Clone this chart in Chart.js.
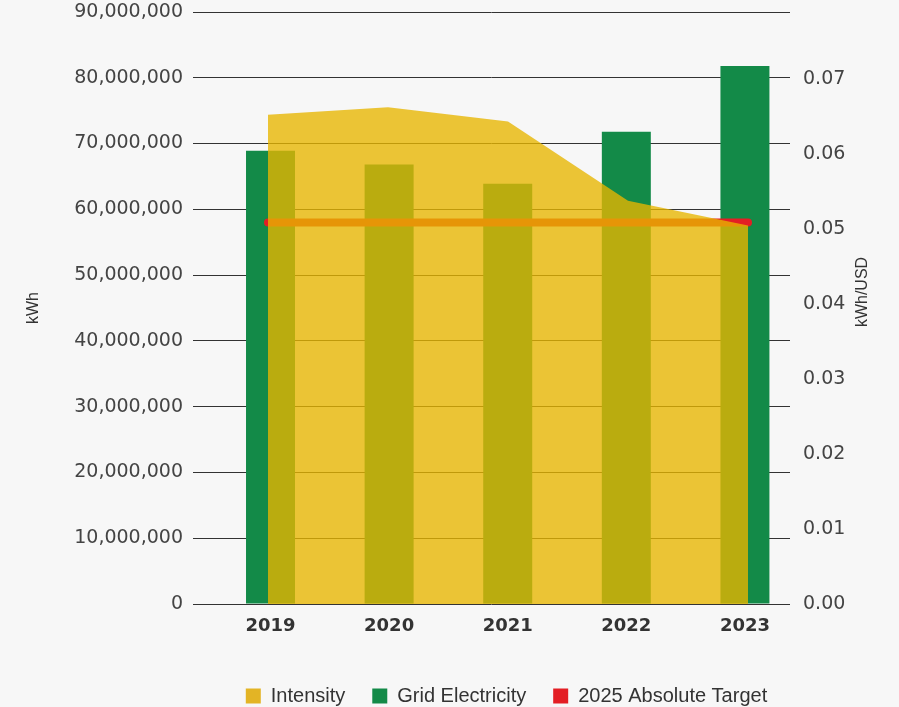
<!DOCTYPE html>
<html lang="en">
  <head>
    <meta charset="UTF-8" />
    <title>Grid Electricity and Intensity</title>
    <style>
      html,
      body {
        margin: 0;
        padding: 0;
        background: #f7f7f7;
      }
      .wrap {
        width: 899px;
        height: 707px;
      }
    </style>
    <script src="https://cdn.jsdelivr.net/npm/chart.js"></script>
  </head>
  <body>
    <div class="wrap">
      <canvas id="energyChart" width="899" height="707"></canvas>
    </div>
    <script>
      const years = [2019, 2020, 2021, 2022, 2023];
      const gridElectricity = [68900000, 66800000, 63900000, 71800000, 81800000];
      const intensity = [0.0653, 0.0663, 0.0644, 0.0538, 0.0505];
      const absoluteTarget = [58000000, 58000000, 58000000, 58000000, 58000000];
      const seriesNames = ["Intensity", "Grid Electricity", "2025 Absolute Target"];
      const legendColors = ["#e3b425", "#138a48", "#e31e24"];
      const leftTitle = "kWh";
      const rightTitle = "kWh/USD";

      const toPoints = (values) => years.map((y, i) => ({ x: y, y: values[i] }));

      // moves the legend and draws the right axis title (reads bottom to top)
      const layoutTweaks = {
        id: "layoutTweaks",
        afterLayout(chart) {
          const lg = chart.legend;
          lg.left += 57;
          lg.right += 57;
          lg.top += 9;
          lg.bottom += 9;
        },
        afterDraw(chart) {
          const ctx = chart.ctx;
          ctx.save();
          ctx.translate(863, 292);
          ctx.rotate(-Math.PI / 2);
          ctx.textAlign = "center";
          ctx.textBaseline = "middle";
          ctx.fillStyle = "#333";
          ctx.font = "16px 'Liberation Sans'";
          ctx.fillText(rightTitle, 0, 0);
          ctx.restore();
        },
      };

      const tickFont = { family: "DejaVu Sans", size: 19 };

      new Chart(document.getElementById("energyChart"), {
        type: "bar",
        data: {
          datasets: [
            {
              label: seriesNames[0],
              type: "line",
              data: toPoints(intensity),
              xAxisID: "x2",
              yAxisID: "y1",
              backgroundColor: "rgba(231, 182, 0, 0.79)",
              borderColor: "transparent",
              borderWidth: 0,
              pointRadius: 0,
              tension: 0,
              fill: "origin",
              order: 0,
            },
            {
              label: seriesNames[1],
              data: toPoints(gridElectricity),
              xAxisID: "x",
              yAxisID: "y",
              backgroundColor: "#138a48",
              grouped: false,
              categoryPercentage: 1,
              barPercentage: 0.413,
              order: 2,
            },
            {
              label: seriesNames[2],
              type: "line",
              data: toPoints(absoluteTarget),
              xAxisID: "x2",
              yAxisID: "y",
              borderColor: "#e31e24",
              backgroundColor: "#e31e24",
              borderWidth: 8,
              borderCapStyle: "round",
              pointRadius: 0,
              fill: false,
              order: 1,
            },
          ],
        },
        options: {
          responsive: false,
          animation: false,
          layout: { padding: { top: 12 } },
          font: { family: "Liberation Sans" },
          plugins: {
            tooltip: { enabled: false },
            legend: {
              position: "bottom",
              labels: {
                boxWidth: 15,
                boxHeight: 15,
                padding: 27,
                color: "#333",
                font: { family: "Liberation Sans", size: 20 },
                sort: (a, b) => a.datasetIndex - b.datasetIndex,
                generateLabels(chart) {
                  const items = Chart.defaults.plugins.legend.labels.generateLabels(chart);
                  items.forEach((it) => {
                    it.fillStyle = legendColors[it.datasetIndex];
                    it.strokeStyle = legendColors[it.datasetIndex];
                    it.lineWidth = 0;
                  });
                  return items;
                },
              },
            },
          },
          scales: {
            x: {
              type: "linear",
              position: "bottom",
              offset: false,
              min: 2018.3465,
              max: 2023.38,
              grid: { display: false, offset: false },
              border: { display: false },
              ticks: {
                stepSize: 1,
                includeBounds: false,
                autoSkip: false,
                maxRotation: 0,
                padding: 4,
                color: "#333",
                font: { family: "DejaVu Sans", size: 18, weight: "bold" },
                callback: (v) => String(v),
              },
              afterFit: (s) => {
                s.height = 46;
              },
            },
            x2: {
              type: "linear",
              display: false,
              offset: false,
              min: 2018.375,
              max: 2023.35,
            },
            y: {
              position: "left",
              min: 0,
              max: 90000000,
              grid: { color: "#333", drawTicks: false },
              border: { display: false },
              ticks: {
                stepSize: 10000000,
                padding: 10,
                color: "#444",
                font: tickFont,
                callback: (v) => v.toLocaleString("en-US"),
              },
              title: {
                display: true,
                text: leftTitle,
                color: "#333",
                font: { family: "Liberation Sans", size: 16 },
                padding: { top: 24 },
              },
              afterFit: (s) => {
                s.width = 193;
                s.paddingTop = 0;
                s.paddingBottom = 0;
              },
            },
            y1: {
              position: "right",
              min: 0,
              max: 0.079,
              grid: { display: false },
              border: { display: false },
              ticks: {
                stepSize: 0.01,
                includeBounds: false,
                padding: 5,
                color: "#444",
                font: tickFont,
                callback: (v) => v.toFixed(2),
              },
              afterFit: (s) => {
                s.width = 109;
                s.paddingTop = 0;
                s.paddingBottom = 0;
              },
            },
          },
        },
        plugins: [layoutTweaks],
      });
    </script>
  </body>
</html>
